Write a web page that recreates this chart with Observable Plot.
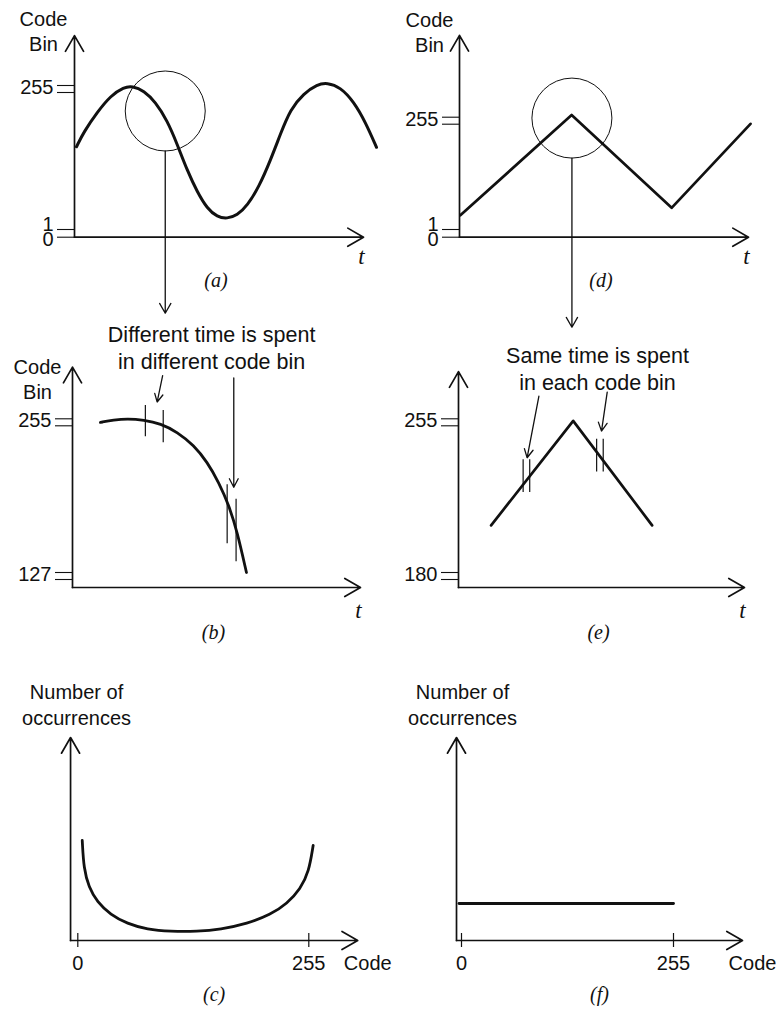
<!DOCTYPE html>
<html>
<head>
<meta charset="utf-8">
<script src="https://cdn.jsdelivr.net/npm/d3@7"></script>
<script src="https://cdn.jsdelivr.net/npm/@observablehq/plot@0.6"></script>
<style>
  html, body { margin: 0; padding: 0; background: #fff; overflow: hidden; }
  #fig { position: relative; width: 776px; height: 1012px; background: #fff; }
  #fig svg { position: absolute; left: 0; top: 0; }
</style>
</head>
<body>
<div id="fig"></div>
<script>
// ---------------- data ----------------
// (a) slow sine wave at the ADC input: time t vs. output code bin
const sineT    = [0.07, 0.32, 0.79, 1.25, 1.71, 2.00, 2.40, 2.80, 3.21, 3.55, 3.90, 4.25, 4.59, 4.94,
                  5.28, 5.63, 5.98, 6.38, 6.78, 7.13, 7.47, 7.93, 8.40, 8.74, 9.20, 9.67, 10.07, 10.45];
const sineCode = [147, 173, 208, 237, 252, 254, 246, 226, 193, 152, 105, 67, 38, 23,
                  20, 26, 43, 76, 123, 170, 213, 241, 257, 260, 252, 226, 190, 146];
const sineLens = {t: 3.14, code: 210};          // region magnified in (b)
const sineTicks = [0, 1, 255];
const sineDoubleTicks = [255];

// (d) triangle wave at the ADC input
const triT    = [0.03, 3.88, 7.34, 10.07];
const triCode = [33, 260, 50, 240];
const triLens = {t: 3.89, code: 253};           // region magnified in (e)
const triTicks = [0, 1, 255];
const triDoubleTicks = [255];

// (b) close-up of the sine crest
const crestT    = [0.97, 1.43, 1.90, 2.48, 3.06, 3.64, 4.21, 4.68, 5.08, 5.43, 5.72, 6.04];
const crestCode = [252, 254, 255, 254, 251, 244, 233, 219, 202, 183, 161, 127];
const crestBinT  = [2.53, 3.15, 5.37, 5.68];
const crestBinLo = [240, 235, 151, 136];
const crestBinHi = [266, 262, 200, 188];
const crestPointerT1 = [3.13, 5.60], crestPointerC1 = [291, 289];
const crestPointerT2 = [2.94, 5.60], crestPointerC2 = [269, 198];
const crestNote = {t: 4.83, code: 315, text: "Different time is spent\nin different code bin"};
const crestTicks = [127, 255];

// (e) close-up of the triangle peak
const peakT    = [1.14, 4.01, 6.77];
const peakCode = [203, 254, 203];
const peakBinT  = [2.26, 2.49, 4.83, 5.06];
const peakBinLo = [219, 219, 229, 229];
const peakBinHi = [235, 235, 245, 245];
const peakPointerT1 = [2.81, 5.20], peakPointerC1 = [266, 268];
const peakPointerT2 = [2.40, 5.00], peakPointerC2 = [236, 249];
const peakNote = {t: 4.86, code: 280, text: "Same time is spent\nin each code bin"};
const peakTicks = [180, 255];

// (c) code histogram of the sine: number of occurrences per code
const histCode  = [4.9, 6.6, 12.1, 21.4, 36.1, 54.5, 76.6, 102.3, 131.8, 157.5, 187.0, 212.7, 231.1, 245.8, 255.0, 259.8];
const histCount = [50, 35.9, 26.7, 19.2, 12.9, 8.4, 5.5, 4.5, 4.5, 5.5, 8.4, 12.9, 18.4, 25.9, 34.2, 47.5];

// (f) code histogram of the triangle: flat
const flatCode  = [-3, 255];
const flatCount = [18.5, 18.5];

const codeTicks = [0, 255];

// ---------------- drawing ----------------
const INK = "#111";
const SANS = "'Liberation Sans', Arial, Helvetica, sans-serif";
const SERIF = "'Liberation Serif', 'Times New Roman', serif";
const axisArrow = {stroke: INK, strokeWidth: 1.7, headLength: 16, headAngle: 60};
const italic = {fontFamily: SERIF, fontStyle: "italic"};

const zip = (obj) => {
  const keys = Object.keys(obj);
  return obj[keys[0]].map((_, i) => Object.fromEntries(keys.map(k => [k, obj[k][i]])));
};

// Broken ("=") code axis: piecewise-linear mapping from code to page position
const brokenAxis = (domain, range) => ({
  transform: d3.scaleLinear().domain(domain).range(range),
  domain: [0, 1012], range: [0, 1012]
});

function draw(x, y, marks) {
  const svg = Plot.plot({
    width: 776, height: 1012,
    x: {...x, axis: null},
    y: {...y, axis: null},
    style: {background: "transparent", overflow: "visible", fontFamily: SANS, fontSize: "20px", color: INK},
    marks
  });
  document.getElementById("fig").appendChild(svg);
}

// y-axis ticks with "=" style double strokes and labels
function yTicks(ticks, doubles) {
  const all = ticks.map(v => ({v, dbl: doubles.includes(v)}));
  const rule = {y: "v", x1: 0, x2: 0, insetLeft: -17, stroke: INK, strokeWidth: 1.1};
  const label = {x: 0, y: "v", text: d => String(d.v), textAnchor: "end", dx: -21};
  return [
    Plot.ruleY(all, rule),
    Plot.ruleY(all.filter(d => d.dbl), {...rule, dy: 7}),
    Plot.text(all.filter(d => d.dbl), {...label, dy: 2}),
    Plot.text(all.filter(d => !d.dbl && d.v === 0), {...label, dy: 2.5}),
    Plot.text(all.filter(d => !d.dbl && d.v !== 0), {...label, dy: -4.5})
  ];
}

// code-vs-time frame: arrowed axes, "Code Bin" title, t label, caption
function timeFrame({tEnd, codeBase, codeTop, title, titleDx, titleDy, tDy, caption, captionDy}) {
  return [
    Plot.arrow([0], {x1: 0, y1: codeBase, x2: 0, y2: codeTop, ...axisArrow}),
    Plot.arrow([0], {x1: 0, y1: codeBase, x2: tEnd, y2: codeBase, ...axisArrow}),
    title ? Plot.text([title], {x: 0, y: codeTop, text: d => d, dx: titleDx, dy: titleDy, lineHeight: 1.25}) : null,
    Plot.text(["t"], {x: tEnd, y: codeBase, text: d => d, dx: -2, dy: tDy, fontSize: 23, ...italic}),
    Plot.text([caption], {x: tEnd / 2, y: codeBase, text: d => d, dx: -3, dy: captionDy, fontSize: 20, ...italic})
  ];
}

// histogram frame: arrowed axes, 0/255 ticks, titles, caption
function histFrame({codeStart, codeEnd, countTop, caption}) {
  return [
    Plot.arrow([0], {x1: codeStart, y1: 0, x2: codeStart, y2: countTop, ...axisArrow}),
    Plot.arrow([0], {x1: codeStart, y1: 0, x2: codeEnd, y2: 0, ...axisArrow}),
    Plot.ruleX(codeTicks, {x: d => d, y1: 0, y2: 0, insetTop: -7, insetBottom: -7, stroke: INK, strokeWidth: 1.2}),
    Plot.text(codeTicks, {x: d => d, y: 0, text: d => String(d), dy: 23}),
    Plot.text(["Code"], {x: codeEnd, y: 0, text: d => d, dx: 10, dy: 23}),
    Plot.text(["Number of\noccurrences"], {x: codeStart, y: countTop, text: d => d, dx: 6, dy: -34, lineHeight: 1.3}),
    Plot.text([caption], {x: (codeStart + codeEnd) / 2, y: 0, text: d => d, dy: 54, fontSize: 20, ...italic})
  ];
}

const lens = {r: 40, stroke: INK, strokeWidth: 1};
const binEdge = {stroke: INK, strokeWidth: 1.2};
const pointer = {stroke: INK, strokeWidth: 1.3, headLength: 11, headAngle: 55};
const note = {fontSize: 21.5, lineHeight: 1.25};

// (a)
draw({domain: [0, 10], range: [74, 363]}, brokenAxis([0, 1, 255], [236.7, 229, 85]), [
  ...timeFrame({tEnd: 10, codeBase: 0, codeTop: 343, title: "Code\nBin", titleDx: -31, titleDy: -5, tDy: 19, caption: "(a)", captionDy: 43}),
  ...yTicks(sineTicks, sineDoubleTicks),
  Plot.line(zip({t: sineT, code: sineCode}), {x: "t", y: "code", curve: "basis", stroke: INK, strokeWidth: 3}),
  Plot.dot([sineLens], {x: "t", y: "code", ...lens}),
  Plot.arrow([sineLens], {x1: "t", y1: "code", x2: "t", y2: 0, insetStart: 40, insetEnd: -76, stroke: INK, strokeWidth: 1.3, headLength: 13, headAngle: 60})
]);

// (d)
draw({domain: [0, 10], range: [459, 748]}, brokenAxis([0, 1, 255], [236.7, 229, 116.7]), [
  ...timeFrame({tEnd: 10, codeBase: 0, codeTop: 440, title: "Code\nBin", titleDx: -30, titleDy: -4, tDy: 19, caption: "(d)", captionDy: 43}),
  ...yTicks(triTicks, triDoubleTicks),
  Plot.line(zip({t: triT, code: triCode}), {x: "t", y: "code", stroke: INK, strokeWidth: 2.7}),
  Plot.dot([triLens], {x: "t", y: "code", ...lens}),
  Plot.arrow([triLens], {x1: "t", y1: "code", x2: "t", y2: 0, insetStart: 40, insetEnd: -90, stroke: INK, strokeWidth: 1.3, headLength: 13, headAngle: 60})
]);

// (b)
draw({domain: [0, 10], range: [72, 360]}, brokenAxis([0, 127, 255], [587, 572, 418.3]), [
  ...timeFrame({tEnd: 10, codeBase: 0, codeTop: 298, title: "Code\nBin", titleDx: -35, titleDy: 11, tDy: 23, caption: "(b)", captionDy: 45}),
  ...yTicks(crestTicks, crestTicks),
  Plot.line(zip({t: crestT, code: crestCode}), {x: "t", y: "code", curve: "basis", stroke: INK, strokeWidth: 2.8}),
  Plot.ruleX(zip({t: crestBinT, lo: crestBinLo, hi: crestBinHi}), {x: "t", y1: "lo", y2: "hi", ...binEdge}),
  Plot.arrow(zip({t1: crestPointerT1, c1: crestPointerC1, t2: crestPointerT2, c2: crestPointerC2}), {x1: "t1", y1: "c1", x2: "t2", y2: "c2", ...pointer}),
  Plot.text([crestNote], {x: "t", y: "code", text: "text", ...note})
]);

// (e)
draw({domain: [0, 10], range: [458, 744]}, brokenAxis([0, 180, 255], [587, 572, 418.3]), [
  ...timeFrame({tEnd: 10, codeBase: 0, codeTop: 278, title: null, tDy: 23, caption: "(e)", captionDy: 45}),
  ...yTicks(peakTicks, peakTicks),
  Plot.line(zip({t: peakT, code: peakCode}), {x: "t", y: "code", stroke: INK, strokeWidth: 2.7}),
  Plot.ruleX(zip({t: peakBinT, lo: peakBinLo, hi: peakBinHi}), {x: "t", y1: "lo", y2: "hi", ...binEdge}),
  Plot.arrow(zip({t1: peakPointerT1, c1: peakPointerC1, t2: peakPointerT2, c2: peakPointerC2}), {x1: "t1", y1: "c1", x2: "t2", y2: "c2", ...pointer}),
  Plot.text([peakNote], {x: "t", y: "code", text: "text", ...note})
]);

// (c)
draw({domain: [0, 255], range: [77.3, 308.3]}, {domain: [0, 100], range: [940, 740]}, [
  ...histFrame({codeStart: -8, codeEnd: 309, countTop: 101.5, caption: "(c)"}),
  Plot.line(zip({code: histCode, count: histCount}), {x: "code", y: "count", curve: "basis", stroke: INK, strokeWidth: 2.8})
]);

// (f)
draw({domain: [0, 255], range: [461, 673]}, {domain: [0, 100], range: [940, 740]}, [
  ...histFrame({codeStart: -6, codeEnd: 338, countTop: 101.5, caption: "(f)"}),
  Plot.line(zip({code: flatCode, count: flatCount}), {x: "code", y: "count", stroke: INK, strokeWidth: 2.8})
]);
</script>
</body>
</html>
